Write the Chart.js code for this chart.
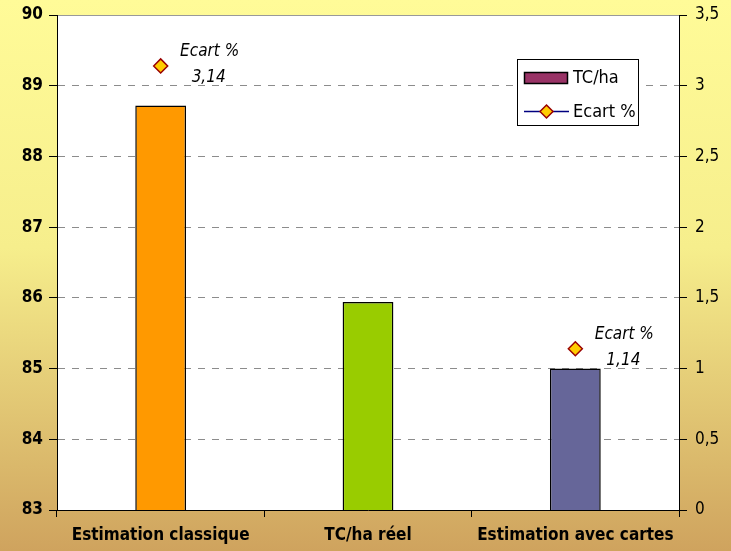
<!DOCTYPE html>
<html>
<head>
<meta charset="utf-8">
<script src="https://cdn.jsdelivr.net/npm/chart.js@4.4.1/dist/chart.umd.min.js"></script>
<style>
  html, body { margin: 0; padding: 0; background: #fff; }
  #wrap { width: 731px; height: 551px; }
</style>
</head>
<body>
<div id="wrap"><canvas id="graphique" width="731" height="551"></canvas></div>
<script>
// données
var categories = ['Estimation classique', 'TC/ha réel', 'Estimation avec cartes'];
var tcHa = [88.72, 85.94, 85.0];
var ecart = [3.14, null, 1.14];
var couleursBarres = ['#ff9900', '#99cc00', '#666699'];
var couleurLegendeBarres = '#993366';

var police = "'Liberation Sans Narrow', 'DejaVu Sans Condensed', Arial, sans-serif";

// fond dégradé + zone de tracé blanche
var fondPlugin = {
    id: 'fond',
    beforeDraw: function(chart) {
        var ctx = chart.ctx;
        var a = chart.chartArea;
        var g = ctx.createLinearGradient(0, 0, 0, chart.height);
        g.addColorStop(0, '#fffb98');
        g.addColorStop(0.45, '#f6ee8c');
        g.addColorStop(1, '#cfa35e');
        ctx.save();
        ctx.fillStyle = g;
        ctx.fillRect(0, 0, chart.width, chart.height);
        ctx.fillStyle = '#ffffff';
        ctx.fillRect(a.left, a.top, a.right - a.left, a.bottom - a.top);
        ctx.strokeStyle = '#999999';
        ctx.lineWidth = 1;
        ctx.beginPath();
        ctx.moveTo(a.left, a.top + 0.5);
        ctx.lineTo(a.right, a.top + 0.5);
        ctx.stroke();
        ctx.restore();
    }
};

// étiquettes "Ecart %" à côté des points
var etiquettesPlugin = {
    id: 'etiquettes',
    afterDatasetsDraw: function(chart) {
        var ctx = chart.ctx;
        var meta = chart.getDatasetMeta(1);
        ctx.save();
        ctx.fillStyle = '#000';
        ctx.textAlign = 'center';
        ctx.textBaseline = 'middle';
        meta.data.forEach(function(pt, i) {
            var v = chart.data.datasets[1].data[i];
            if (v === null) return;
            ctx.font = 'italic 17px ' + police;
            ctx.fillText('Ecart %', pt.x + 49, pt.y - 14);
            ctx.fillText(String(v).replace('.', ','), pt.x + 48, pt.y + 12);
        });
        ctx.restore();
    }
};

// légende encadrée dans la zone de tracé
var legendePlugin = {
    id: 'legende',
    afterDraw: function(chart) {
        var ctx = chart.ctx;
        var a = chart.chartArea;
        var x = a.right - 162, y = a.top + 44, w = 121, h = 66;
        ctx.save();
        ctx.fillStyle = '#fff';
        ctx.fillRect(x, y, w, h);
        ctx.strokeStyle = '#000';
        ctx.lineWidth = 1;
        ctx.strokeRect(x + 0.5, y + 0.5, w, h);
        // barres
        ctx.fillStyle = couleurLegendeBarres;
        ctx.fillRect(x + 7, y + 13, 43, 11);
        ctx.lineWidth = 1.5;
        ctx.strokeRect(x + 7.5, y + 13.5, 43, 11);
        // ligne + losange
        ctx.strokeStyle = '#000080';
        ctx.beginPath();
        ctx.moveTo(x + 7, y + 52.5);
        ctx.lineTo(x + 52, y + 52.5);
        ctx.stroke();
        ctx.beginPath();
        ctx.moveTo(x + 29.5, y + 46);
        ctx.lineTo(x + 36, y + 52.5);
        ctx.lineTo(x + 29.5, y + 59);
        ctx.lineTo(x + 23, y + 52.5);
        ctx.closePath();
        ctx.fillStyle = '#ffcc00';
        ctx.fill();
        ctx.strokeStyle = '#990000';
        ctx.stroke();
        ctx.fillStyle = '#000';
        ctx.font = '18px ' + police;
        ctx.textBaseline = 'middle';
        ctx.fillText(chart.data.datasets[0].label, x + 56, y + 19);
        ctx.fillText(chart.data.datasets[1].label, x + 56, y + 53);
        ctx.restore();
    }
};

new Chart(document.getElementById('graphique'), {
    type: 'bar',
    data: {
        labels: categories,
        datasets: [{
            label: 'TC/ha',
            data: tcHa,
            backgroundColor: couleursBarres,
            borderColor: '#000',
            borderWidth: 1.5,
            barPercentage: 0.245,
            categoryPercentage: 1,
            yAxisID: 'y',
            order: 2
        },
        {
            type: 'line',
            label: 'Ecart %',
            data: ecart,
            yAxisID: 'y2',
            borderColor: '#000080',
            borderWidth: 1,
            spanGaps: false,
            pointStyle: 'rectRot',
            pointRadius: 7,
            pointBackgroundColor: '#ffcc00',
            pointBorderColor: '#990000',
            pointBorderWidth: 1.5,
            order: 1
        }]
    },
    options: {
        responsive: false,
        animation: false,
        layout: { padding: { top: 15, left: 0, right: 0, bottom: 0 } },
        plugins: {
            legend: { display: false },
            tooltip: { enabled: false }
        },
        scales: {
            x: {
                offset: true,
                grid: { offset: true, drawOnChartArea: false, tickLength: 7, color: '#000' },
                border: { color: '#000', width: 1 },
                ticks: { color: '#000', padding: 8, font: { family: police, size: 17, weight: 'bold' }, maxRotation: 0 },
                afterFit: function(s) { s.height = 41; s.paddingLeft = 0; s.paddingRight = 0; }
            },
            y: {
                position: 'left',
                min: 83,
                max: 90,
                ticks: { stepSize: 1, color: '#000', padding: 6, font: { family: police, size: 17, weight: 'bold' } },
                grid: {
                    tickLength: 8,
                    color: function(c) {
                        if (c.tick && (c.tick.value === 83 || c.tick.value === 90)) return 'rgba(0,0,0,0)';
                        return '#8c8c8c';
                    },
                    tickColor: '#000',
                    tickBorderDash: [0, 0]
                },
                border: { color: '#000', width: 1, dash: [7, 7] },
                afterFit: function(s) { s.width = 57; s.paddingTop = 0; s.paddingBottom = 0; }
            },
            y2: {
                position: 'right',
                min: 0,
                max: 3.5,
                ticks: {
                    stepSize: 0.5,
                    color: '#000',
                    padding: 8,
                    font: { family: police, size: 17 },
                    callback: function(v) { return String(v).replace('.', ','); }
                },
                grid: { drawOnChartArea: false, tickLength: 8, color: '#000' },
                border: { color: '#000', width: 1 },
                afterFit: function(s) { s.width = 52; s.paddingTop = 0; s.paddingBottom = 0; }
            }
        }
    },
    plugins: [fondPlugin, etiquettesPlugin, legendePlugin]
});
</script>
</body>
</html>
